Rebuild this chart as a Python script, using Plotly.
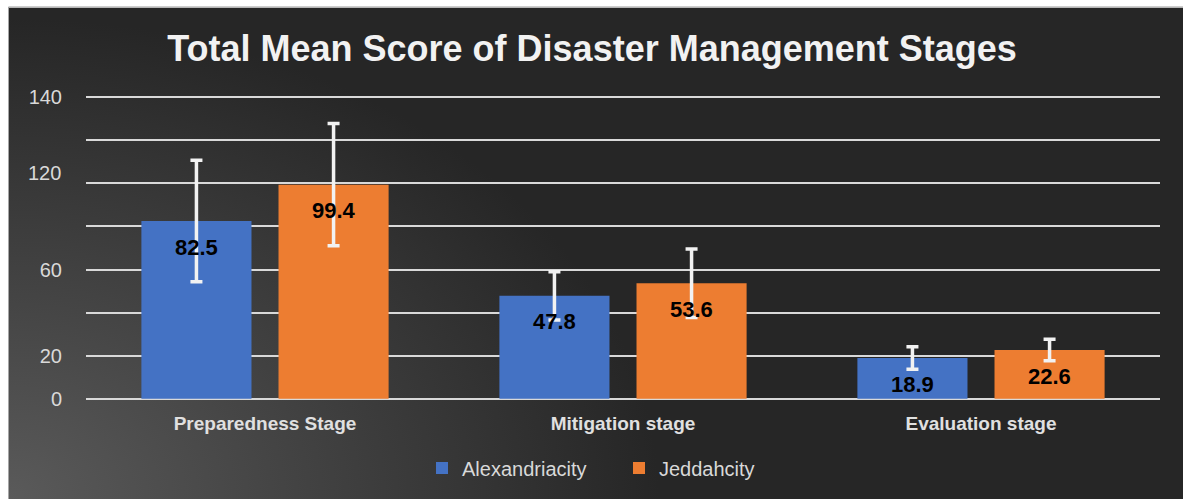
import base64
import plotly.graph_objects as go

# ---- data ----
categories = ["Preparedness Stage", "Mitigation stage", "Evaluation stage"]
series_names = ["Alexandriacity", "Jeddahcity"]
alex_values = [82.5, 47.8, 18.9]
jeddah_values = [99.4, 53.6, 22.6]
alex_errors = [28.2, 11.2, 5.2]
jeddah_errors = [28.4, 15.9, 5.0]
y_tickvals = [0, 20, 40, 60, 80, 100, 120, 140]
y_ticktext = ["0", "20", "", "60", "", "", "", "140"]
shifted_label_value = 100
shifted_label_text = "120"
title_text = "Total Mean Score of Disaster Management Stages"

# ---- styling ----
blue = "#4472C4"
orange = "#ED7D31"
font_family = "Liberation Sans, Arial, sans-serif"
bargap = 0.234
bargroupgap = 0.197

W, H = 1183, 499
ypad = 0.6  # small range padding so edge gridlines are drawn
pxu = 302 / 140
ml = 86
mr = W - 1160
mt = 97 - ypad * pxu
mb = H - (399 + ypad * pxu)
pw, ph = W - ml - mr, H - mt - mb

# background gradient as svg image (chart region starts at x=9, y=7)
bx0, by0 = 9, 7
bw, bh = W + 20 - bx0, H + 20 - by0
gh = H - by0
svg = (
    f'<svg xmlns="http://www.w3.org/2000/svg" width="{bw}" height="{bh}" viewBox="0 0 {bw} {bh}" '
    f'preserveAspectRatio="none"><defs><radialGradient id="g" gradientUnits="userSpaceOnUse" '
    f'cx="0" cy="{gh}" r="650" gradientTransform="translate(0 {gh}) scale(1 0.74) translate(0 -{gh})">'
    f'<stop offset="0" stop-color="#5a5a5a"/><stop offset="1" stop-color="#262626"/>'
    f'</radialGradient></defs><rect width="{bw}" height="{bh}" fill="url(#g)"/></svg>'
)
svg_uri = "data:image/svg+xml;base64," + base64.b64encode(svg.encode()).decode()

fig = go.Figure()
for name, vals, errs, col in [
    (series_names[0], alex_values, alex_errors, blue),
    (series_names[1], jeddah_values, jeddah_errors, orange),
]:
    fig.add_trace(go.Bar(
        x=categories, y=vals, name=name,
        marker=dict(color=col, line=dict(width=0)),
        error_y=dict(type="data", array=errs, visible=True, color="#f2f2f2", thickness=3.5, width=6),
    ))

# data labels inside bars near top
offset = (1 - bargap) / 4
anns = []
for s, vals in enumerate([alex_values, jeddah_values]):
    for i, v in enumerate(vals):
        anns.append(dict(
            x=i + (-offset if s == 0 else offset), y=v, xref="x", yref="y",
            text=f"{v:.1f}", showarrow=False, yshift=-26,
            font=dict(family=font_family, size=22, color="#000000", weight="bold"),
        ))
anns.append(dict(
    x=0, y=shifted_label_value, xref="paper", yref="y", text=shifted_label_text,
    showarrow=False, xanchor="right", xshift=-23, yshift=10,
    font=dict(family=font_family, size=20, color="#d9d9d9"),
))

fig.update_layout(
    width=W, height=H,
    margin=dict(l=ml, r=mr, t=mt, b=mb, pad=0),
    paper_bgcolor="#ffffff",
    plot_bgcolor="rgba(0,0,0,0)",
    barmode="group", bargap=bargap, bargroupgap=bargroupgap,
    title=dict(
        text=title_text, x=592 / W, xref="container", xanchor="center",
        y=1 - 48 / H, yref="container", yanchor="middle",
        font=dict(family=font_family, size=36, color="#f2f2f2", weight="bold"),
    ),
    xaxis=dict(
        showgrid=False, zeroline=False, showline=False, ticks="",
        tickfont=dict(family=font_family, size=19, color="#e0e0e0", weight="bold"),
        ticklabelstandoff=10,
    ),
    yaxis=dict(
        range=[-ypad, 140 + ypad], tickmode="array", tickvals=y_tickvals, ticktext=y_ticktext,
        showgrid=True, gridcolor="#d9d9d9", gridwidth=1.5, zeroline=False, showline=False,
        ticks="", ticklabelstandoff=23,
        tickfont=dict(family=font_family, size=20, color="#d9d9d9"),
    ),
    legend=dict(
        orientation="h", xref="container", yref="container",
        x=422 / W, xanchor="left", y=1 - 468 / H, yanchor="middle",
        entrywidth=152, entrywidthmode="pixels",
        font=dict(family=font_family, size=20, color="#d9d9d9"),
        bgcolor="rgba(0,0,0,0)",
    ),
    annotations=anns,
    images=[dict(
        source=svg_uri, xref="paper", yref="paper",
        x=(bx0 - ml) / pw, y=(H - mb - by0) / ph,
        sizex=bw / pw, sizey=bh / ph,
        xanchor="left", yanchor="top", sizing="stretch", layer="below",
    )],
    shapes=[
        dict(type="line", xref="paper", yref="paper",
             x0=(bx0 - 0.5 - ml) / pw, x1=(W + 20 - ml) / pw,
             y0=(H - mb - (by0 - 0.5)) / ph, y1=(H - mb - (by0 - 0.5)) / ph,
             line=dict(color="#a6a6a6", width=1), layer="above"),
        dict(type="line", xref="paper", yref="paper",
             x0=(bx0 - 0.5 - ml) / pw, x1=(bx0 - 0.5 - ml) / pw,
             y0=(H - mb - (by0 - 0.5)) / ph, y1=(H - mb - (H + 20)) / ph,
             line=dict(color="#a6a6a6", width=1), layer="above"),
    ],
)

fig.write_html(
    "out.html",
    config={"displayModeBar": False},
    post_script="document.body.style.margin='0';document.body.style.overflow='hidden';",
)
